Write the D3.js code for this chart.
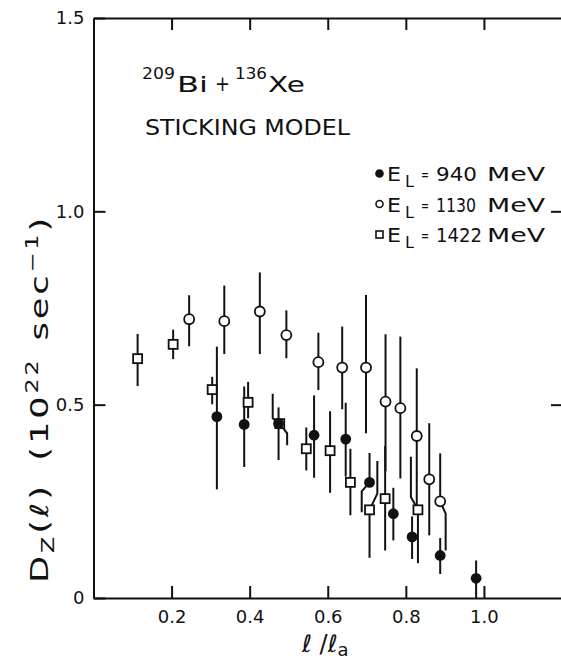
<!DOCTYPE html>
<html>
<head>
<meta charset="utf-8">
<script src="https://cdn.jsdelivr.net/npm/d3@7/dist/d3.min.js"></script>
<style>
  body { margin: 0; background: #fff; }
  text { font-family: "DejaVu Sans", sans-serif; fill: #111; }
</style>
</head>
<body>
<svg id="chart" width="561" height="660"></svg>
<script>
// tick values
const xTicks = [0.2, 0.4, 0.6, 0.8, 1.0];
const yTicks = [0, 0.5, 1.0, 1.5];
const rightTicks = [0.5, 1.0];

// E_L = 940 MeV (filled circles)
const l940  = [0.316, 0.386, 0.474, 0.565, 0.646, 0.707, 0.768, 0.816, 0.888, 0.980];
const d940  = [0.469, 0.449, 0.451, 0.421, 0.411, 0.299, 0.218, 0.158, 0.110, 0.051];
const lo940 = [0.281, 0.339, 0.357, 0.311, 0.314, 0.222, 0.149, 0.101, 0.062, 0.000];
const hi940 = [0.650, 0.547, 0.493, 0.524, 0.505, 0.375, 0.285, 0.211, 0.155, 0.097];

// E_L = 1130 MeV (open circles)
const l1130  = [0.245, 0.335, 0.426, 0.494, 0.576, 0.637, 0.698, 0.748, 0.786, 0.828, 0.860, 0.888];
const d1130  = [0.721, 0.716, 0.741, 0.680, 0.610, 0.596, 0.596, 0.508, 0.491, 0.419, 0.307, 0.250];
const lo1130 = [0.651, 0.631, 0.631, 0.620, 0.538, 0.488, 0.426, 0.328, 0.309, 0.235, 0.162, 0.123];
const hi1130 = [0.783, 0.808, 0.842, 0.744, 0.686, 0.702, 0.784, 0.682, 0.676, 0.594, 0.452, 0.374];

// E_L = 1422 MeV (open squares)
const l1422  = [0.113, 0.204, 0.304, 0.396, 0.477, 0.545, 0.606, 0.658, 0.707, 0.747, 0.831];
const d1422  = [0.619, 0.656, 0.539, 0.506, 0.451, 0.386, 0.381, 0.299, 0.228, 0.257, 0.228];
const lo1422 = [0.548, 0.618, 0.501, 0.465, 0.395, 0.330, 0.272, 0.214, 0.104, 0.123, 0.090];
const hi1422 = [0.683, 0.694, 0.572, 0.559, 0.528, 0.441, 0.483, 0.386, 0.354, 0.393, 0.365];

// error bars drawn offset to dodge other points: series, index, side, shift in l/l_a, where the shift ends
const kinks = [
  ['1422', 4, 'hi', -0.018, 0.465],
  ['1422', 4, 'lo', 0.019, 0.426],
  ['940', 5, 'lo', -0.020, 0.276],
  ['1422', 8, 'hi', 0.020, 0.270],
  ['1422', 10, 'hi', -0.018, 0.261],
  ['1130', 11, 'lo', 0.014, 0.218]
];

const energies = ['940', '1130', '1422'];

var svg = d3.select('#chart');
var x = d3.scaleLinear().domain([0, 1.2]).range([93.5, 562]);
var y = d3.scaleLinear().domain([0, 1.5]).range([598, 18]);

var styleAxis = function (g, size) {
  g.select('.domain').attr('stroke', '#111').attr('stroke-width', 2);
  g.selectAll('.tick line').attr('stroke', '#111').attr('stroke-width', 2);
  g.selectAll('.tick text')
    .attr('font-family', '"DejaVu Sans", sans-serif')
    .attr('font-size', size)
    .attr('fill', '#111');
};

//Axes, ticks all point inward
svg.append('g')
  .attr('transform', 'translate(0,' + y(0) + ')')
  .call(d3.axisBottom(x).tickValues(xTicks).tickSize(-12).tickSizeOuter(0).tickPadding(12)
    .tickFormat(d3.format('.1f')))
  .call(styleAxis, 18);

svg.append('g')
  .attr('transform', 'translate(0,' + y(1.5) + ')')
  .call(d3.axisTop(x).tickValues(xTicks).tickSize(-12).tickSizeOuter(0).tickFormat(''))
  .call(styleAxis, 18);

svg.append('g')
  .attr('transform', 'translate(' + x(0) + ',0)')
  .call(d3.axisLeft(y).tickValues(yTicks).tickSize(-12).tickSizeOuter(0).tickPadding(9)
    .tickFormat(function (d) { return d === 0 ? '0' : d3.format('.1f')(d); }))
  .call(styleAxis, 18);

svg.append('g')
  .attr('transform', 'translate(' + x(1.2) + ',0)')
  .call(d3.axisRight(y).tickValues(rightTicks).tickSize(-11).tickSizeOuter(0).tickFormat(''))
  .call(styleAxis, 18);

//Build point records
var makeSeries = function (key, ls, ds, los, his) {
  return ls.map(function (l, i) {
    return { key: key, i: i, l: l, d: ds[i], lo: los[i], hi: his[i] };
  });
};
var s940 = makeSeries('940', l940, d940, lo940, hi940);
var s1130 = makeSeries('1130', l1130, d1130, lo1130, hi1130);
var s1422 = makeSeries('1422', l1422, d1422, lo1422, hi1422);
var allPts = s940.concat(s1130, s1422);

var barPath = function (p, side) {
  var end = side === 'hi' ? p.hi : p.lo;
  var k = kinks.find(function (k) { return k[0] === p.key && k[1] === p.i && k[2] === side; });
  if (!k) {
    return 'M' + x(p.l) + ',' + y(p.d) + 'L' + x(p.l) + ',' + y(end);
  }
  return 'M' + x(p.l) + ',' + y(p.d) + 'L' + x(p.l + k[3]) + ',' + y(k[4]) +
    'L' + x(p.l + k[3]) + ',' + y(end);
};

//Error bars
var bars = svg.append('g').attr('fill', 'none').attr('stroke', '#111').attr('stroke-width', 2);
['hi', 'lo'].forEach(function (side) {
  bars.selectAll('path.' + side)
    .data(allPts)
    .enter()
    .append('path')
    .attr('class', side)
    .attr('d', function (p) { return barPath(p, side); });
});

//Markers
var marks = svg.append('g');
marks.selectAll('rect')
  .data(s1422)
  .enter()
  .append('rect')
  .attr('x', function (p) { return x(p.l) - 4.5; })
  .attr('y', function (p) { return y(p.d) - 4.5; })
  .attr('width', 9)
  .attr('height', 9)
  .attr('fill', '#fff')
  .attr('stroke', '#111')
  .attr('stroke-width', 1.8);

marks.selectAll('circle.open')
  .data(s1130)
  .enter()
  .append('circle')
  .attr('class', 'open')
  .attr('cx', function (p) { return x(p.l); })
  .attr('cy', function (p) { return y(p.d); })
  .attr('r', 5)
  .attr('fill', '#fff')
  .attr('stroke', '#111')
  .attr('stroke-width', 1.8);

marks.selectAll('circle.filled')
  .data(s940)
  .enter()
  .append('circle')
  .attr('class', 'filled')
  .attr('cx', function (p) { return x(p.l); })
  .attr('cy', function (p) { return y(p.d); })
  .attr('r', 5.4)
  .attr('fill', '#111');

//Text helper
var label = function (str, px, py, size, len) {
  var t = svg.append('text')
    .attr('x', px)
    .attr('y', py)
    .attr('font-size', size)
    .text(str);
  if (len) t.attr('textLength', len).attr('lengthAdjust', 'spacingAndGlyphs');
  return t;
};

//Title
label('209', 142, 79, 16, 33);
label('Bi', 177, 92, 22, 31);
label('+', 215, 91, 22, 15);
label('136', 235, 79, 16, 32);
label('Xe', 268, 92, 22, 37);
label('STICKING MODEL', 145, 135, 22, 205);

//Legend
var valueWidth = { '940': 41, '1130': 40, '1422': 46 };
energies.forEach(function (e, i) {
  var base = 181 + i * 30.5;
  var my = base - 7.5;
  if (i === 0) {
    svg.append('circle').attr('cx', 379.5).attr('cy', my).attr('r', 4.3).attr('fill', '#111');
  } else if (i === 1) {
    svg.append('circle').attr('cx', 379.5).attr('cy', my).attr('r', 3.5)
      .attr('fill', '#fff').attr('stroke', '#111').attr('stroke-width', 1.6);
  } else {
    svg.append('rect').attr('x', 376).attr('y', my - 3.5).attr('width', 7).attr('height', 7)
      .attr('fill', '#fff').attr('stroke', '#111').attr('stroke-width', 1.6);
  }
  label('E', 387, base, 20, 14);
  label('L', 405, base + 6, 16, 9);
  label('=', 421, base - 1, 15, 8);
  label(e, 436, base, 20, valueWidth[e]);
  label('MeV', 487, base, 20, 58);
});

//Y axis title, wide lettering stretched along the axis
var yl = svg.append('text')
  .attr('transform', 'translate(48,399) rotate(-90)')
  .attr('text-anchor', 'middle')
  .attr('font-size', 25)
  .attr('letter-spacing', 2)
  .attr('textLength', 368)
  .attr('lengthAdjust', 'spacingAndGlyphs');
yl.append('tspan').text('D');
yl.append('tspan').attr('font-size', 17).attr('dy', 6).text('Z');
yl.append('tspan').attr('dy', -6).text('(\u2113)');
yl.append('tspan').attr('dx', 16).text('(10');
yl.append('tspan').attr('font-size', 17).attr('dy', -10).text('22');
yl.append('tspan').attr('dy', 10).attr('dx', 12).text('sec');
yl.append('tspan').attr('font-size', 17).attr('dy', -10).text('\u22121');
yl.append('tspan').attr('dy', 10).text(')');

//X axis title
var xl = svg.append('text')
  .attr('x', 302)
  .attr('y', 652)
  .attr('font-size', 24);
xl.append('tspan').text('\u2113 /\u2113');
xl.append('tspan').attr('font-size', 18).attr('dy', 4).text('a');
</script>
</body>
</html>
